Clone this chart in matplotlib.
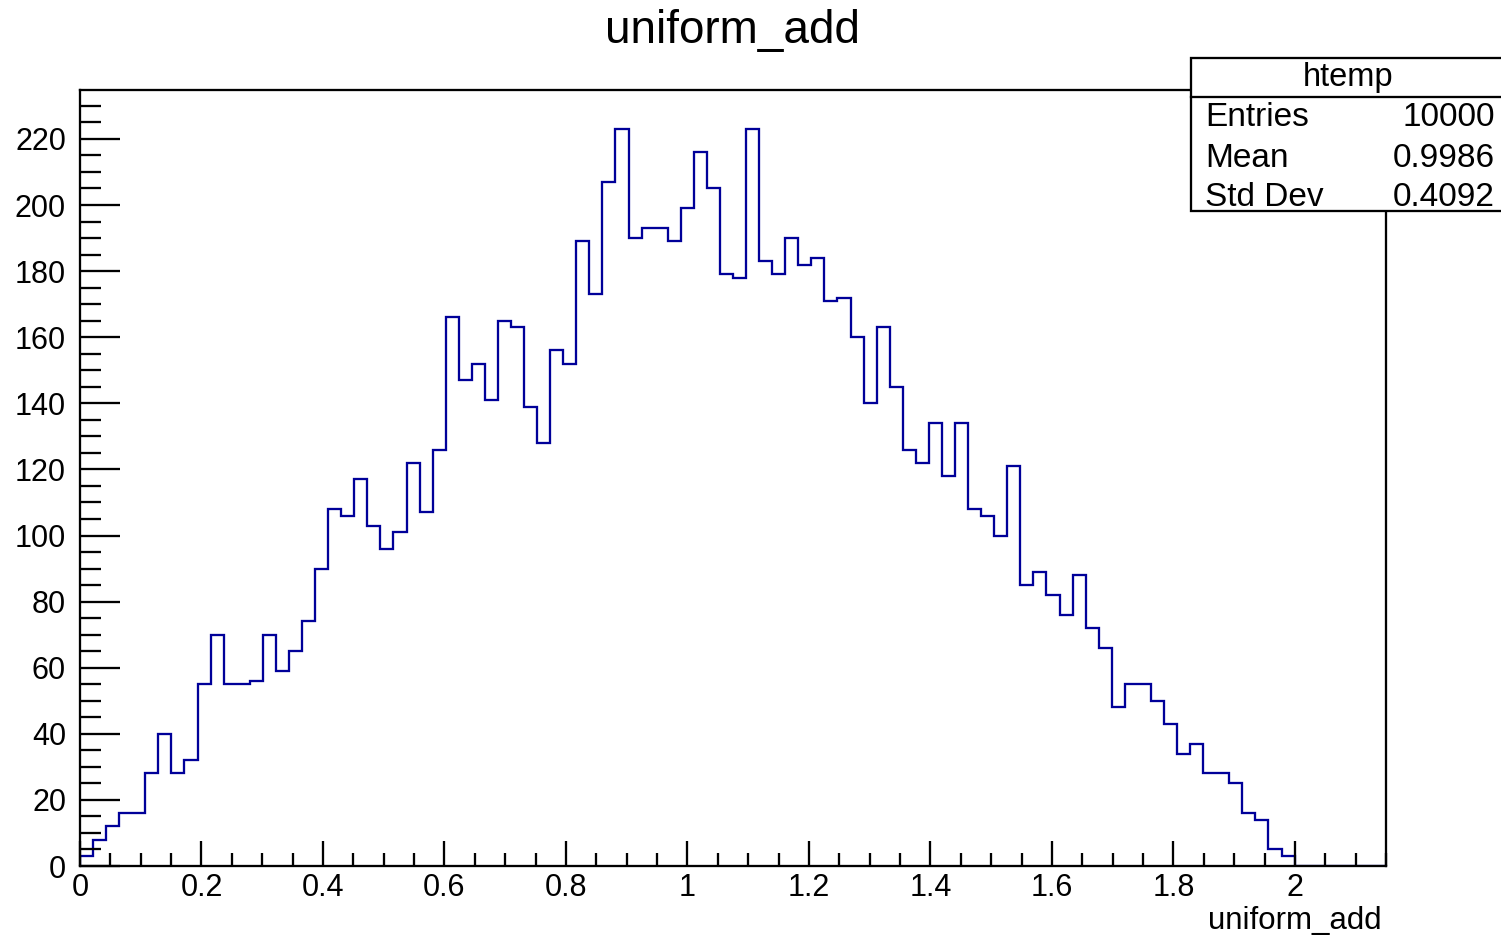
import numpy as np
import matplotlib
matplotlib.use("Agg")
import matplotlib.pyplot as plt
from matplotlib.patches import Rectangle
from matplotlib.lines import Line2D
from matplotlib.ticker import MultipleLocator

# ---------------- data ----------------
title = "uniform_add"
x_label = "uniform_add"
hist_name = "htemp"
x_min, x_max, n_bins = 0.0, 2.15, 100
counts = [3, 8, 12, 16, 16, 28, 40, 28, 32, 55,
          70, 55, 55, 56, 70, 59, 65, 74, 90, 108,
          106, 117, 103, 96, 101, 122, 107, 126, 166, 147,
          152, 141, 165, 163, 139, 128, 156, 152, 189, 173,
          207, 223, 190, 193, 193, 189, 199, 216, 205, 179,
          178, 223, 183, 179, 190, 182, 184, 171, 172, 160,
          140, 163, 145, 126, 122, 134, 118, 134, 108, 106,
          100, 121, 85, 89, 82, 76, 88, 72, 66, 48,
          55, 55, 50, 43, 34, 37, 28, 28, 25, 16,
          14, 5, 3, 0, 0, 0, 0, 0, 0, 0]
y_max = 234.8
x_ticks = [0, 0.2, 0.4, 0.6, 0.8, 1.0, 1.2, 1.4, 1.6, 1.8, 2.0]
x_tick_labels = ["0", "0.2", "0.4", "0.6", "0.8", "1", "1.2", "1.4", "1.6", "1.8", "2"]
y_ticks = [0, 20, 40, 60, 80, 100, 120, 140, 160, 180, 200, 220]
stat_names = ["Entries", "Mean", "Std Dev"]
stat_values = ["10000", "0.9986", "0.4092"]

# ---------------- figure ----------------
W, H = 1501, 935
plt.rcParams['font.family'] = ['Liberation Sans', 'DejaVu Sans']
fig = plt.figure(figsize=(W / 100, H / 100), dpi=100)
fig.patch.set_facecolor("white")

L, R, T, B = 80, 1386, 90, 866
ax = fig.add_axes([L / W, 1 - B / H, (R - L) / W, (B - T) / H])

edges = np.linspace(x_min, x_max, n_bins + 1)
ax.stairs(counts, edges, color="#000099", linewidth=1.65, baseline=0, zorder=1)

ax.set_xlim(x_min, x_max)
ax.set_ylim(0, y_max)

LW = 1.65
for s in ax.spines.values():
    s.set_linewidth(LW)
    s.set_color("black")
    s.set_zorder(3)

ax.set_xticks(x_ticks)
ax.set_xticklabels(x_tick_labels)
ax.set_yticks(y_ticks)
ax.xaxis.set_minor_locator(MultipleLocator(0.05))
ax.yaxis.set_minor_locator(MultipleLocator(5))

ax.tick_params(axis="x", which="major", direction="in", length=18, width=LW,
               labelsize=22, pad=5, top=False)
ax.tick_params(axis="x", which="minor", direction="in", length=9.4, width=LW, top=False)
ax.tick_params(axis="y", which="major", direction="in", length=29, width=LW,
               labelsize=22, pad=10, right=False)
ax.tick_params(axis="y", which="minor", direction="in", length=15, width=LW, right=False)

def fx(px):
    return px / W

def fy(py):
    return 1 - py / H

# title and x label
fig.text(fx(732), fy(43), title, ha="center", va="baseline", fontsize=33)
fig.text(fx(1382), fy(929), x_label, ha="right", va="baseline", fontsize=22.5)

# stat box
bx0, by0, bx1, by1 = 1191, 58, 1510, 211
box = Rectangle((fx(bx0), fy(by1)), fx(bx1) - fx(bx0), fy(by0) - fy(by1),
                transform=fig.transFigure, facecolor="white", edgecolor="black",
                linewidth=LW, zorder=10, clip_on=False)
fig.add_artist(box)
fig.add_artist(Line2D([fx(bx0), fx(bx1)], [fy(96.5), fy(96.5)], transform=fig.transFigure,
                      color="black", linewidth=LW, zorder=11))
fig.text(fx(1348), fy(86), hist_name, ha="center", va="baseline", fontsize=23.5, zorder=12)
baselines = [126, 167, 206]
for name, val, yb in zip(stat_names, stat_values, baselines):
    fig.text(fx(1205), fy(yb), name, ha="left", va="baseline", fontsize=24, zorder=12)
    fig.text(fx(1495), fy(yb), val, ha="right", va="baseline", fontsize=24, zorder=12)

fig.savefig("out.png", dpi=100, facecolor="white")
